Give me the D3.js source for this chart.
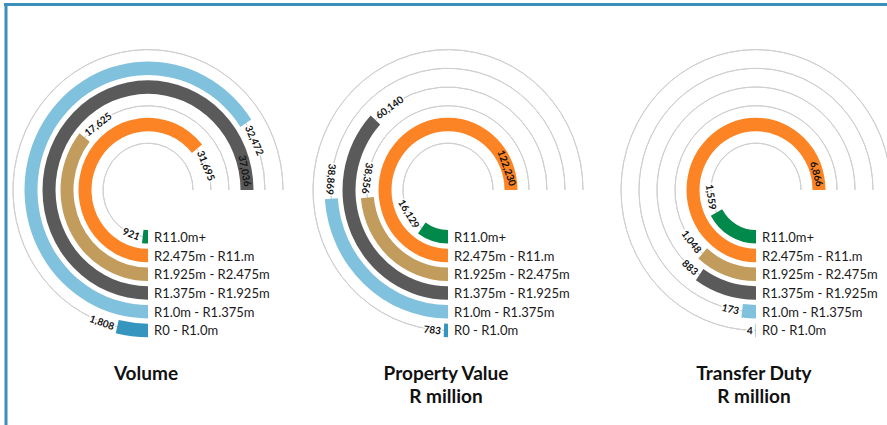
<!DOCTYPE html>
<html>
<head>
<meta charset="utf-8">
<script src="https://cdn.jsdelivr.net/npm/d3@7"></script>
<style>
  body { margin: 0; background: #fff; }
  text { font-family: Lato, "Open Sans", sans-serif; }
</style>
</head>
<body>
<script>
const categories = ["R11.0m+", "R2.475m - R11.m", "R1.925m - R2.475m", "R1.375m - R1.925m", "R1.0m - R1.375m", "R0 - R1.0m"];
const colors = ["#00894b", "#fd8424", "#c29c5d", "#5a5a5a", "#80c2de", "#3595bf"];
const volume = [921, 31695, 17625, 37036, 32472, 1808];
const propertyValue = [16129, 122230, 38356, 60140, 38869, 783];
const transferDuty = [1559, 6866, 1048, 883, 173, 4];
const titles = [["Volume"], ["Property Value", "R million"], ["Transfer Duty", "R million"]];

const W = 887, H = 425;
const svg = d3.select("body").append("svg")
    .attr("width", W)
    .attr("height", H);

// frame
svg.append("line").attr("x1", 4).attr("y1", 4.5).attr("x2", W).attr("y2", 4.5)
    .attr("stroke", "#3a90bb").attr("stroke-width", 3);
svg.append("line").attr("x1", 6).attr("y1", 3).attr("x2", 6).attr("y2", H)
    .attr("stroke", "#3a90bb").attr("stroke-width", 3);

const centersX = [148, 448, 756];
const cy = 190;
const sy = 1.04; // picture is a little taller than wide
const bandW = 13;
const fmt = d3.format(",");

const radius = d3.scalePoint().domain(categories).range([45, 135]);

function drawRadial(values, cx, title) {
    const max = d3.max(values);
    const angle = d3.scaleLinear().domain([0, max]).range([0, Math.PI * 1.5]);
    const arc = d3.arc();

    const g = svg.append("g")
        .attr("transform", `translate(${cx},${cy}) scale(1,${sy})`);

    // thin tracks for the rest of the ring
    categories.forEach((c, i) => {
        const r = radius(c);
        const a = angle(values[i]);
        if (a < Math.PI * 1.5) {
            g.append("path")
                .attr("d", arc({innerRadius: r, outerRadius: r, startAngle: Math.PI + a, endAngle: Math.PI * 2.5}))
                .attr("fill", "none")
                .attr("stroke", "#cfcfcf")
                .attr("stroke-width", 1)
                .attr("vector-effect", "non-scaling-stroke");
        }
    });

    // bars
    categories.forEach((c, i) => {
        const r = radius(c);
        g.append("path")
            .attr("d", arc({innerRadius: r - bandW / 2, outerRadius: r + bandW / 2,
                startAngle: Math.PI, endAngle: Math.PI + angle(values[i])}))
            .attr("fill", colors[i]);
    });

    // value labels
    categories.forEach((c, i) => {
        const r = radius(c);
        const a = angle(values[i]);
        const t = svg.append("text")
            .attr("font-size", 10)
            .attr("font-weight", 700)
            .attr("fill", "#111")
            .attr("text-anchor", "middle")
            .attr("dominant-baseline", "central")
            .attr("stroke", values[i] === max ? "none" : "#fff")
            .attr("stroke-width", 3)
            .attr("paint-order", "stroke")
            .text(fmt(values[i]));
        const len = t.node().getComputedTextLength();
        const gap = 3 / r;
        const w = len / r;
        const mid = values[i] === max ? a - gap - w / 2 : a + gap + w / 2;
        const x = cx - r * Math.sin(mid);
        const y = cy + sy * r * Math.cos(mid);
        const deg = mid * 180 / Math.PI;
        const rot = a < Math.PI / 2 ? deg : deg - 180;
        t.attr("transform", `translate(${x},${y}) rotate(${rot})`);
    });

    // legend
    categories.forEach((c) => {
        svg.append("text")
            .attr("x", cx + 6)
            .attr("y", cy + sy * radius(c))
            .attr("dominant-baseline", "central")
            .attr("font-size", 13)
            .attr("fill", "#1a1a1a")
            .text(c);
    });

    // title
    title.forEach((line, k) => {
        svg.append("text")
            .attr("x", cx - 2)
            .attr("y", 380 + k * 23)
            .attr("text-anchor", "middle")
            .attr("font-size", 19)
            .attr("font-weight", 700)
            .attr("fill", "#111")
            .text(line);
    });
}

drawRadial(volume, centersX[0], titles[0]);
drawRadial(propertyValue, centersX[1], titles[1]);
drawRadial(transferDuty, centersX[2], titles[2]);
</script>
</body>
</html>
